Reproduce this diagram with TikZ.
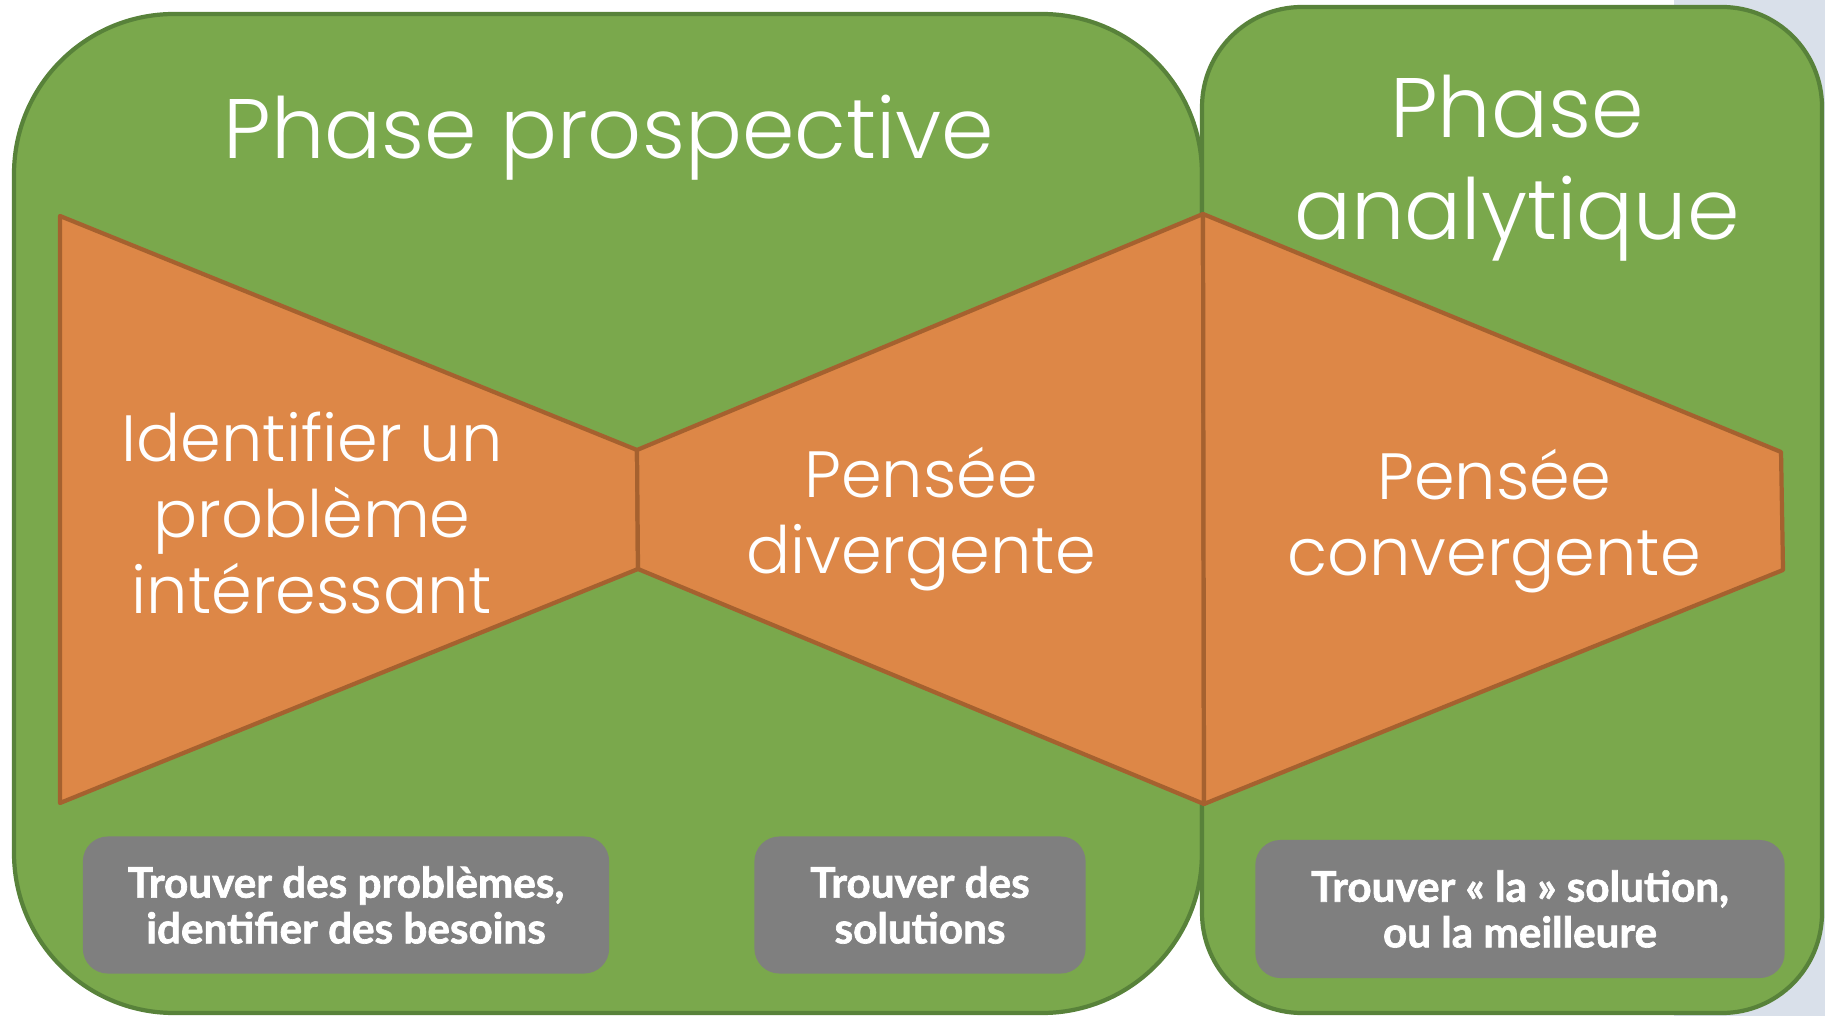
\documentclass[tikz,border=0pt]{standalone}
\usepackage{fontspec}
\newfontfamily\gothic{Poppins Light}
\newfontfamily\notefont{Lato}[BoldFeatures={FakeBold=1.6}]

\definecolor{phasegreen}{HTML}{7AA84C}
\definecolor{phaseborder}{HTML}{58823A}
\definecolor{thinkorange}{HTML}{DD8747}
\definecolor{thinkborder}{HTML}{A5612F}
\definecolor{notegray}{HTML}{7F7F7F}
\definecolor{slideblue}{HTML}{D9E0EA}

\tikzset{
    phase/.style={draw=phaseborder, line width=1.2pt, fill=phasegreen},
    think/.style={draw=thinkborder, line width=1.2pt, fill=thinkorange, line join=round},
    title/.style={text=white, inner sep=0pt, align=center, font=\gothic\fontsize{24}{29}\selectfont},
    label/.style={text=white, inner sep=0pt, align=center, font=\gothic\fontsize{18.6}{21.6}\selectfont},
    notebox/.style={fill=notegray, rounded corners=0.25cm, text=white, align=center,
        minimum height=1.37cm, font=\notefont\bfseries\fontsize{12}{13}\selectfont}
}

\begin{document}
\begin{tikzpicture}[x=0.01cm, y=-0.01cm]
    \useasboundingbox (0,0) rectangle (1825,1016);
    \fill[slideblue] (1674,0) rectangle (1825,1016);

    % the two phases
    \draw[phase, rounded corners=1.6cm] (14,14) rectangle (1202,1013);
    \draw[phase, rounded corners=1.0cm] (1202,7) rectangle (1822,1013);

    % corners of the funnels
    \coordinate (L1) at (60,216);
    \coordinate (L2) at (60,803);
    \coordinate (M1) at (637,450);
    \coordinate (M2) at (638,569);
    \coordinate (D1) at (1203,214);
    \coordinate (D2) at (1204,804);
    \coordinate (R1) at (1781,452);
    \coordinate (R2) at (1783,570);

    \draw[think] (L1) -- (M1) -- (M2) -- (L2) -- cycle;
    \draw[think] (M1) -- (D1) -- (D2) -- (M2) -- cycle;
    \draw[think] (D1) -- (R1) -- (R2) -- (D2) -- cycle;

    \node[title, anchor=base] (prosp) at (609,159) {Phase prospective};
    \node[title] (analyt) at (1517,168) {Phase\\analytique};

    \node[label] (probleme) at (312,513) {Identifier un\\problème\\intéressant};
    \node[label] (diverge) at (921,519) {Pensée\\divergente};
    \node[label] (converge) at (1494,521) {Pensée\\convergente};

    \node[notebox, minimum width=5.26cm] (trouverpb) at (346,905) {Trouver des problèmes,\\identifier des besoins};
    \node[notebox, minimum width=3.31cm] (trouversol) at (920,905) {Trouver des\\solutions};
    \node[notebox, minimum width=5.29cm, minimum height=1.38cm] (trouverla) at (1520,909) {Trouver « la » solution,\\ou la meilleure};
\end{tikzpicture}
\end{document}
